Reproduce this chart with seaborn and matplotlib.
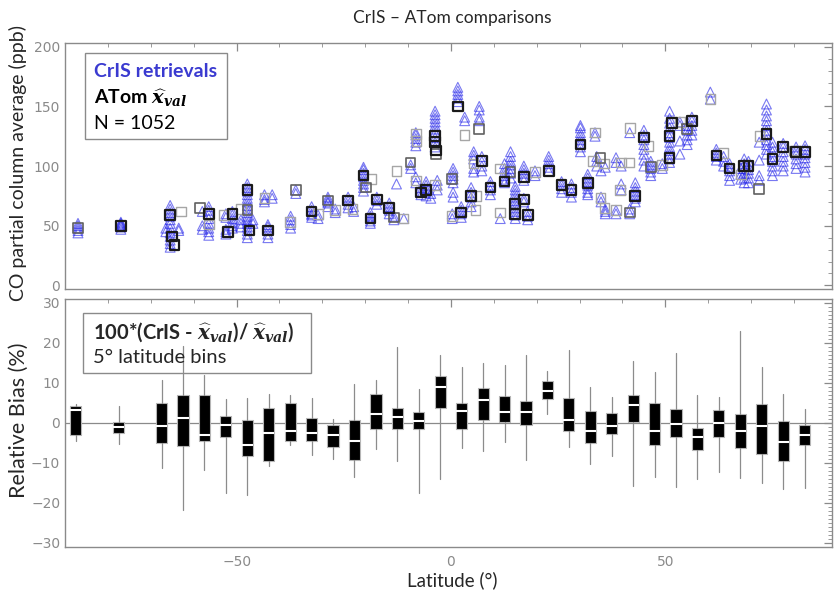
import matplotlib
matplotlib.use("Agg")
import matplotlib.pyplot as plt
from matplotlib.ticker import MultipleLocator
from matplotlib.patches import Rectangle
import numpy as np
import pandas as pd
import seaborn as sns

# ---------------- data ----------------
# ATom x_val (squares): latitude, CO (ppb), overlap level (1 light .. 3 dark)
atom_lat = [-87.0, -77.0, -65.5, -65.0, -64.5, -63.0, -58.5, -56.5, -56.5, -53.0,
            -52.0, -51.0, -49.0, -47.5, -47.5, -47.0, -43.5, -42.7, -37.5, -36.2,
            -32.5, -31.0, -28.7, -27.0, -24.0, -23.0, -20.4, -19.8, -18.5, -18.8,
            -17.3, -14.4, -13.3, -11.1, -12.7, -9.4, -8.2, -8.0, -8.2, -7.0,
            -5.8, -3.7, -3.7, -3.7, -3.5, -3.5, 0.2, 0.3, 1.6, 2.4,
            3.2, 4.7, 5.7, 5.3, 6.6, 7.2, 5.8, 9.2, 11.5, 11.5,
            12.5, 13.9, 15.0, 15.0, 17.0, 17.0, 17.9, 19.6, 22.8, 25.8,
            28.1, 30.2, 31.9, 33.6, 33.0, 34.9, 34.9, 35.7, 35.8, 38.5,
            39.7, 39.5, 41.6, 41.7, 41.8, 43.0, 45.0, 46.1, 46.6, 49.3,
            51.0, 51.0, 51.5, 53.4, 55.1, 56.2, 60.5, 61.9, 63.6, 65.0,
            67.6, 68.4, 69.4, 71.9, 72.0, 73.6, 75.0, 77.5, 80.0, 80.5, 82.6]
atom_val = [48, 50, 59, 41, 34, 62, 65, 60, 51, 59,
            45, 60, 64, 80, 63, 46, 73, 46, 53, 80,
            62, 60, 71, 63, 71, 64, 92, 82, 89, 56,
            72, 65, 57, 56, 96, 103, 127, 121, 88, 78,
            80, 84, 125, 120, 113, 110, 89, 58, 150, 61,
            126, 75, 63, 102, 131, 104, 75, 82, 61, 98,
            87, 95, 68, 60, 91, 72, 59, 95, 96, 84,
            80, 118, 86, 128, 104, 107, 73, 102, 65, 63,
            103, 80, 103, 132, 61, 75, 124, 117, 99, 101,
            107, 125, 136, 137, 131, 138, 156, 109, 111, 98,
            93, 100, 100, 81, 125, 127, 106, 116, 113, 112, 112]
atom_n = [2, 3, 3, 3, 3, 1, 2, 3, 1, 1,
          3, 3, 1, 3, 2, 3, 1, 3, 1, 2,
          3, 1, 2, 1, 3, 1, 3, 2, 1, 3,
          3, 3, 2, 1, 1, 2, 1, 1, 1, 3,
          3, 1, 3, 3, 3, 2, 2, 1, 3, 3,
          1, 3, 1, 1, 2, 3, 1, 3, 1, 1,
          3, 2, 3, 3, 3, 3, 3, 1, 3, 3,
          3, 3, 3, 1, 1, 2, 1, 1, 1, 1,
          1, 1, 1, 1, 2, 3, 3, 1, 2, 1,
          3, 3, 3, 1, 2, 3, 1, 3, 1, 3,
          1, 3, 3, 2, 1, 3, 3, 3, 1, 3, 3]

# CrIS retrievals (triangles): one latitude per cluster, CO values of that cluster
cris_lat = [-87.0, -77.0, -65.5, -66.5, -63.5, -58.0, -56.5, -52.5, -51.0, -49.0,
            -47.5, -46.2, -43.5, -42.7, -41.7, -37.4, -36.2, -32.5, -31.0, -28.7,
            -27.0, -24.0, -22.7, -20.4, -18.8, -17.3, -14.4, -13.3, -12.7, -11.0,
            -9.4, -8.2, -7.0, -5.8, -4.7, -3.7, -3.2, 0.5, 0.3, 1.6,
            2.4, 3.2, 4.7, 5.3, 6.6, 7.2, 9.2, 11.5, 12.5, 13.9,
            15.0, 17.0, 17.9, 19.6, 22.8, 25.8, 28.1, 30.2, 31.9, 33.6,
            34.0, 35.0, 36.0, 38.5, 39.7, 41.7, 43.0, 45.0, 46.6, 49.3,
            51.0, 53.4, 55.1, 56.2, 60.5, 61.9, 63.6, 65.0, 67.6, 68.4,
            69.4, 71.9, 73.6, 75.0, 77.5, 80.5, 82.6]
cris_vals = [[44, 46, 48, 50, 52],
             [47, 49, 50, 51, 52, 53],
             [67, 64, 61, 58, 55, 52, 48, 44, 41, 38, 35, 32],
             [48, 45],
             [48, 46],
             [47, 50, 62],
             [66, 63, 60, 56, 52, 48, 45, 42],
             [47, 45, 43, 57, 60],
             [62, 59, 56, 53, 50, 48],
             [52, 49, 55],
             [85, 82, 79, 76, 73, 70, 67, 64, 61, 58, 55, 52, 49, 46, 43, 40],
             [52, 55],
             [72, 76, 70],
             [40, 43, 46, 49, 51],
             [76, 73],
             [48, 51, 55, 58],
             [80, 77],
             [57, 60, 63, 66, 59],
             [56, 59],
             [66, 69, 72, 74, 70],
             [61, 64],
             [68, 71, 74, 65],
             [62, 66],
             [79, 82, 85, 88, 91, 94, 97, 99],
             [52, 54, 56, 58, 61],
             [68, 71, 74],
             [60, 63, 66, 69],
             [55, 58],
             [85],
             [56],
             [98, 101],
             [117, 120, 123, 126, 128, 91, 86],
             [76, 79, 82],
             [75, 78, 81, 84, 87],
             [73, 77],
             [146, 143, 140, 137, 134, 131, 128, 124, 120, 116],
             [80, 84, 88],
             [86, 89, 92, 95, 98, 74, 78],
             [56, 60],
             [166, 163, 160, 157, 154],
             [57, 60, 63, 66],
             [138, 141],
             [66, 70, 74, 78, 82],
             [106, 109, 112, 95, 98],
             [150, 147, 141, 138],
             [96, 100, 104, 108],
             [76, 80, 84, 87],
             [56],
             [86, 89, 92, 95, 98, 102],
             [90, 94, 98, 101, 104, 108, 112],
             [56, 59, 62, 65, 68, 71, 74, 77, 80, 83],
             [70, 73, 88, 91, 94, 97, 100],
             [55, 58, 62],
             [92, 96],
             [96, 99, 102, 105, 108],
             [78, 81, 84, 87],
             [74, 78, 82, 85],
             [112, 116, 119, 122, 125, 128, 132, 134],
             [76, 78, 81, 84, 87, 90, 93],
             [125, 128],
             [100, 104, 108],
             [70, 74, 96],
             [60, 62, 64, 99],
             [60, 63, 103, 107],
             [80, 85, 100],
             [60, 64, 128],
             [70, 73, 76, 79, 82, 86],
             [100, 105, 110, 114, 118, 122, 126, 130],
             [92, 95, 98, 101, 104],
             [98, 102],
             [103, 106, 110, 113, 116, 120, 124, 128, 132, 136, 140, 146],
             [110, 121, 134, 137],
             [118, 122, 126, 130, 134],
             [126, 130, 134, 138, 141],
             [156, 162],
             [105, 108, 111, 114],
             [100, 104, 108],
             [88, 92, 96, 99, 102],
             [89, 93, 98],
             [86, 90, 94, 98, 102, 106],
             [86, 90, 94, 97, 100, 104],
             [88, 92, 105, 120],
             [110, 114, 118, 122, 126, 130, 134, 138, 142, 147, 152],
             [92, 96, 100, 104, 108, 112, 116, 120],
             [96, 100, 104, 108, 112, 116, 119],
             [98, 102, 106, 110, 113, 116],
             [95, 99, 103, 107, 110, 114, 117]]

# relative bias per 5 degree latitude bin (%)
bin_lat = [-87.5, -77.5, -67.5, -62.5, -57.5, -52.5, -47.5, -42.5, -37.5, -32.5,
           -27.5, -22.5, -17.5, -12.5, -7.5, -2.5, 2.5, 7.5, 12.5, 17.5,
           22.5, 27.5, 32.5, 37.5, 42.5, 47.5, 52.5, 57.5, 62.5, 67.5,
           72.5, 77.5, 82.5]
bias_q3 = [4.2, 0.3, 5.0, 7.0, 7.0, 1.7, 0.8, 3.7, 5.0, 1.3,
           -0.5, 0.8, 7.2, 3.7, 2.7, 11.7, 5.0, 8.7, 6.8, 5.4,
           10.5, 6.3, 2.9, 2.6, 7.0, 4.9, 3.5, -1.2, 3.3, 2.2,
           4.8, 0.4, -0.6]
bias_q1 = [-2.9, -2.4, -5.1, -5.8, -4.6, -3.5, -8.2, -9.5, -4.4, -4.6,
           -5.9, -9.2, -1.5, -1.5, -1.4, 3.7, -1.5, 0.8, 0.2, -0.5,
           6.1, -2.0, -5.0, -2.7, 0.2, -5.4, -3.5, -6.8, -3.5, -6.2,
           -7.7, -9.5, -5.4]
bias_med = [3.2, -1.0, -0.8, 1.3, -2.9, -0.5, -5.6, -2.4, -1.9, -2.4,
            -3.1, -4.5, 2.2, 1.6, 0.4, 9.1, 3.0, 5.7, 2.8, 2.7,
            8.0, 0.8, -1.9, -0.7, 4.4, -1.9, -0.2, -3.4, -0.1, -1.9,
            -0.8, -4.8, -3.1]
bias_hi = [4.8, 4.2, 10.7, 19.3, 12.0, 5.9, 6.3, 7.3, 7.1, 6.2,
           1.1, 9.8, 10.7, 19.1, 8.6, 17.1, 13.9, 14.9, 14.6, 16.9,
           13.0, 18.2, 9.1, 6.4, 15.4, 12.7, 17.5, 6.9, 6.5, 23.1,
           13.9, 7.3, 3.5]
bias_lo = [-4.6, -5.2, -11.3, -21.7, -11.8, -17.6, -18.1, -10.8, -5.5, -8.1,
           -9.1, -13.4, -6.6, -9.6, -17.6, -13.9, -6.2, -6.9, -4.8, -9.2,
           2.3, -5.9, -10.3, -8.2, -15.8, -13.6, -16.0, -14.0, -12.3, -13.8,
           -15.0, -16.5, -16.2]

# ---------------- styling ----------------
sns.set_theme(style="white")
plt.rcParams['font.family'] = ['Lato', 'DejaVu Sans']
plt.rcParams['mathtext.fontset'] = 'dejavuserif'
tick_gray = '#8a8a8a'

fig = plt.figure(figsize=(8.35, 5.91), dpi=100)
ax1 = fig.add_axes([0.078, 0.511, 0.919, 0.416])
ax2 = fig.add_axes([0.078, 0.0745, 0.919, 0.4196])

# top panel: CrIS triangles then ATom squares
cris_df = pd.DataFrame({'lat': np.repeat(cris_lat, [len(v) for v in cris_vals]),
                        'co': np.concatenate(cris_vals)})
sns.scatterplot(data=cris_df, x='lat', y='co', marker='^', s=50, fc='none',
                ec='#1f1fe8', alpha=0.6, linewidth=0.8, ax=ax1, legend=False)

atom_df = pd.DataFrame({'lat': atom_lat, 'co': atom_val, 'n': atom_n})
sq_style = {1: ('#a6a6a6', 1.0), 2: ('#606060', 1.2), 3: ('#1a1a1a', 1.6)}
for lvl, (col, lw) in sq_style.items():
    sub = atom_df[atom_df['n'] == lvl]
    sns.scatterplot(data=sub, x='lat', y='co', marker='s', s=48, fc='none',
                    ec=col, linewidth=lw, ax=ax1, legend=False)

ax1.set_xlim(-90, 89)
ax1.set_ylim(-3, 203)
ax1.xaxis.set_major_locator(MultipleLocator(50))
ax1.xaxis.set_minor_locator(MultipleLocator(10))
ax1.yaxis.set_major_locator(MultipleLocator(50))
ax1.yaxis.set_minor_locator(MultipleLocator(10))
ax1.set_xticklabels([])
ax1.set_xlabel('')
ax1.set_ylabel('')

# bottom panel: box plots from bin statistics
ax2.axhline(0, color=tick_gray, lw=0.9, zorder=0)
stats = [dict(med=m, q1=a, q3=b, whislo=lo, whishi=hi, fliers=[])
         for m, a, b, lo, hi in zip(bias_med, bias_q1, bias_q3, bias_lo, bias_hi)]
ax2.bxp(stats, positions=bin_lat, widths=2.6, showcaps=False, showfliers=False,
        patch_artist=True, manage_ticks=False,
        boxprops=dict(facecolor='black', edgecolor='#b5b5b5', linewidth=0.8),
        medianprops=dict(color='white', linewidth=1.5),
        whiskerprops=dict(color='#8c8c8c', linewidth=0.9))
ax2.set_xlim(-90, 89)
ax2.set_ylim(-31, 31)
ax2.xaxis.set_major_locator(MultipleLocator(50))
ax2.xaxis.set_minor_locator(MultipleLocator(10))
ax2.yaxis.set_major_locator(MultipleLocator(10))
ax2.yaxis.set_minor_locator(MultipleLocator(1))

for ax in (ax1, ax2):
    for sp in ax.spines.values():
        sp.set_color(tick_gray)
        sp.set_linewidth(1.0)
    ax.tick_params(which='both', direction='in', top=True, right=True,
                   colors=tick_gray, labelcolor=tick_gray, labelsize=10)
    ax.tick_params(which='major', length=6, width=0.9)
    ax.tick_params(which='minor', length=3, width=0.6)
    for lab in ax.get_xticklabels() + ax.get_yticklabels():
        lab.set_fontfamily('DejaVu Sans')
ax2.tick_params(axis='x', which='major', pad=5.5)

# text boxes
ax1.add_patch(Rectangle((0.026, 0.6085), 0.1845, 0.352, transform=ax1.transAxes,
                        fill=False, ec='#8a8a8a', lw=1.0))
ax1.text(0.037, 0.883, 'CrIS retrievals', transform=ax1.transAxes, color='#3a3ad0',
         fontsize=14, fontweight='bold', va='center')
ax1.text(0.037, 0.775, r'ATom $\mathbfit{\widehat{x}_{val}}$', transform=ax1.transAxes,
         color='black', fontsize=14, fontweight='bold', va='center')
ax1.text(0.037, 0.675, 'N = 1052', transform=ax1.transAxes, color='black',
         fontsize=14, va='center')

ax2.add_patch(Rectangle((0.0238, 0.703), 0.296, 0.242, transform=ax2.transAxes,
                        fill=False, ec='#8a8a8a', lw=1.0))
ax2.text(0.036, 0.868, r'100*(CrIS - $\mathbfit{\widehat{x}_{val}}$)/ $\mathbfit{\widehat{x}_{val}}$)',
         transform=ax2.transAxes, fontsize=14.5, fontweight='bold', va='center')
ax2.text(0.036, 0.765, '5° latitude bins', transform=ax2.transAxes, fontsize=14.5,
         va='center')

fig.text(0.542, 0.9695, 'CrIS – ATom comparisons', ha='center', va='center', fontsize=12.5)
fig.text(0.5413, 0.019, 'Latitude (°)', ha='center', va='center', fontsize=13.5)
fig.text(0.022, 0.725, 'CO partial column average (ppb)', rotation=90,
         ha='center', va='center', fontsize=14)
fig.text(0.022, 0.289, 'Relative Bias (%)', rotation=90, ha='center', va='center',
         fontsize=15.5)

fig.savefig('out.png', dpi=100)
